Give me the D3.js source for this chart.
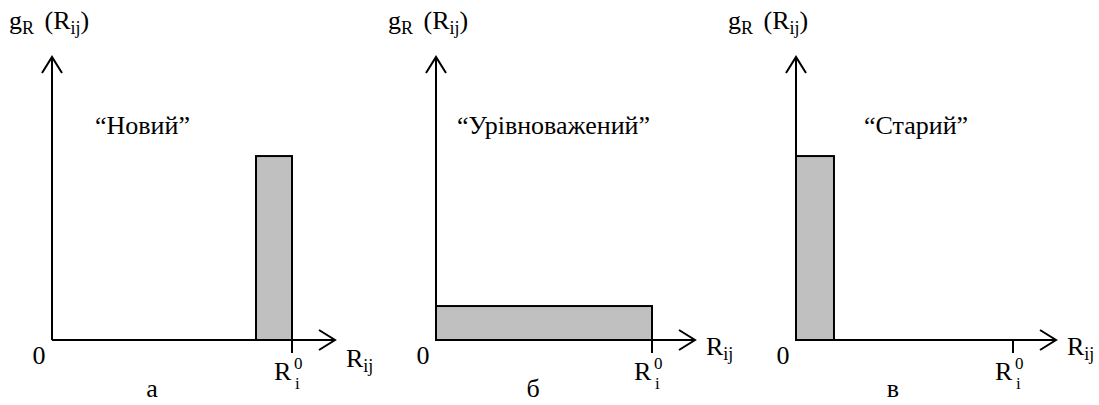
<!DOCTYPE html>
<html>
<head>
<meta charset="utf-8">
<script src="https://cdn.jsdelivr.net/npm/d3@7"></script>
<style>
  body { margin: 0; background: #fff; }
</style>
</head>
<body>
<svg id="chart" width="1099" height="405" font-family="'Times New Roman', 'Liberation Serif', serif"></svg>
<script>
'use strict';

// panel captions and state names
const panelLetters = ['а', 'б', 'в'];
const stateNames = ['“Новий”', '“Урівноважений”', '“Старий”'];

// bar of each panel, in units of R_i^0 (x) and relative density (y)
const barStart = [0.85, 0, 0];
const barEnd = [1, 1, 0.175];
const barHeight = [0.65, 0.12, 0.65];

// position of the R_i^0 tick on the x axis
const r0Value = [1, 1, 1];

// layout of the three panels
const originX = [52, 436, 796];
const r0Width = [240, 216, 217];
const titleX = [9, 388, 728];
const stateX = [95, 457, 864];
const captionX = [152, 533, 893];
const rijY = [367, 355, 355];
const baseY = 340, topY = 57;
const arrowExtra = 43;
const fs = 26, fsSmall = 18;

const svg = d3.select('#chart');

panelLetters.forEach((letter, i) => {
	const x = d3.scaleLinear().domain([0, r0Value[i]]).range([originX[i], originX[i] + r0Width[i]]);
	const y = d3.scaleLinear().domain([0, 1]).range([baseY, topY]);
	const g = svg.append('g');

	// bar
	g.append('rect')
		.attr('x', x(barStart[i]))
		.attr('y', y(barHeight[i]))
		.attr('width', x(barEnd[i]) - x(barStart[i]))
		.attr('height', y(0) - y(barHeight[i]))
		.attr('fill', '#c0c0c0')
		.attr('stroke', '#000')
		.attr('stroke-width', 2);

	const x0 = x(0), xEnd = x(r0Value[i]) + arrowExtra;

	// axes with open arrow heads
	g.append('path')
		.attr('d', `M${x0},${y(0)}V${y(1)}M${x0 - 10},${y(1) + 16}L${x0},${y(1)}L${x0 + 10},${y(1) + 16}`)
		.attr('fill', 'none').attr('stroke', '#000').attr('stroke-width', 2);
	g.append('path')
		.attr('d', `M${x0},${y(0)}H${xEnd}M${xEnd - 16},${y(0) - 10}L${xEnd},${y(0)}L${xEnd - 16},${y(0) + 10}`)
		.attr('fill', 'none').attr('stroke', '#000').attr('stroke-width', 2);

	// R_i^0 tick
	const xr = x(r0Value[i]);
	g.append('line')
		.attr('x1', xr).attr('x2', xr)
		.attr('y1', y(0)).attr('y2', y(0) + 13)
		.attr('stroke', '#000').attr('stroke-width', 2);

	// "0" at origin
	g.append('text').attr('x', x0 - 13).attr('y', 364)
		.attr('font-size', fs).attr('text-anchor', 'middle').text('0');

	// R_i^0 label
	g.append('text').attr('x', xr - 18).attr('y', 380).attr('font-size', fs).text('R');
	g.append('text').attr('x', xr + 2).attr('y', 369).attr('font-size', 17).text('0');
	g.append('text').attr('x', xr + 3).attr('y', 389).attr('font-size', 17).text('i');

	// R_ij label at the x arrow
	const rij = g.append('text').attr('x', xEnd + 11).attr('y', rijY[i]).attr('font-size', fs);
	rij.append('tspan').text('R');
	rij.append('tspan').attr('font-size', fsSmall).attr('dy', 5).text('ij');

	// g_R(R_ij) title
	const t = g.append('text').attr('x', titleX[i]).attr('y', 29).attr('font-size', fs);
	t.append('tspan').text('g');
	t.append('tspan').attr('font-size', fsSmall).attr('dy', 5).text('R');
	t.append('tspan').attr('dy', -5).attr('dx', 4).text(' (R');
	t.append('tspan').attr('font-size', fsSmall).attr('dy', 5).text('ij');
	t.append('tspan').attr('dy', -5).text(')');

	// state name
	g.append('text').attr('x', stateX[i]).attr('y', 134).attr('font-size', fs).text(stateNames[i]);

	// panel caption
	g.append('text').attr('x', captionX[i]).attr('y', 397)
		.attr('font-size', fs).attr('text-anchor', 'middle').text(letter);
});
</script>
</body>
</html>
